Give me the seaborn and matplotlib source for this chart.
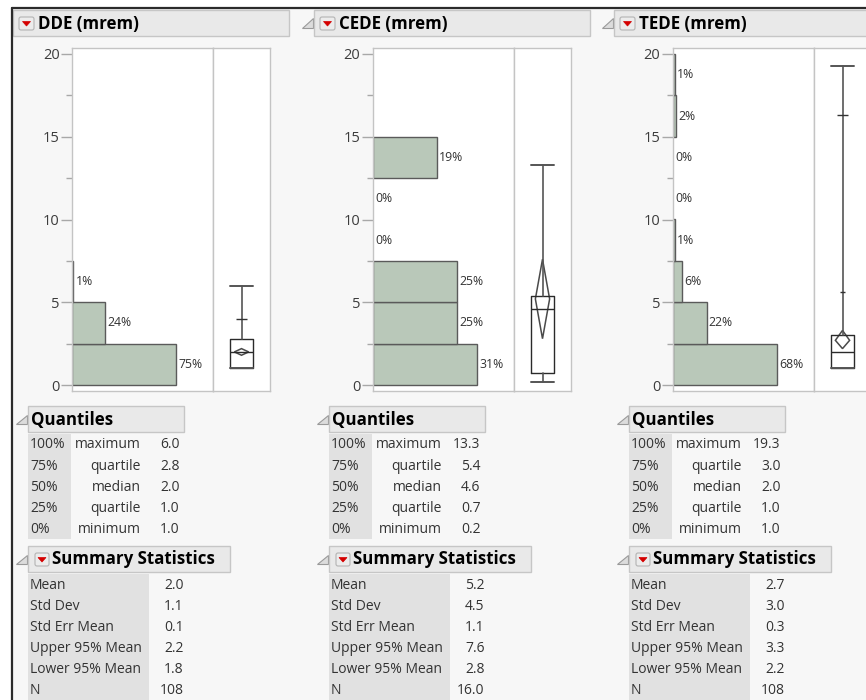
import matplotlib
matplotlib.use("Agg")
import matplotlib.pyplot as plt
from matplotlib.patches import Rectangle, Polygon, FancyBboxPatch
import seaborn as sns

# -------------------------------
# Values read from the JMP distribution report
# -------------------------------
VARIABLES = ["DDE (mrem)", "CEDE (mrem)", "TEDE (mrem)"]
BIN_EDGES = [0, 2.5, 5, 7.5, 10, 12.5, 15, 17.5, 20]

DDE_PCT = [75, 24, 1]
CEDE_PCT = [31, 25, 25, 0, 0, 19]
TEDE_PCT = [68, 22, 6, 1, 0, 0, 2, 1]

QUANTILE_PCTS = ["100%", "75%", "50%", "25%", "0%"]
QUANTILE_NAMES = ["maximum", "quartile", "median", "quartile", "minimum"]
DDE_QUANTILES = [6.0, 2.8, 2.0, 1.0, 1.0]
CEDE_QUANTILES = [13.3, 5.4, 4.6, 0.7, 0.2]
TEDE_QUANTILES = [19.3, 3.0, 2.0, 1.0, 1.0]

SUMMARY_NAMES = ["Mean", "Std Dev", "Std Err Mean", "Upper 95% Mean", "Lower 95% Mean", "N"]
DDE_SUMMARY = [2.0, 1.1, 0.1, 2.2, 1.8]
CEDE_SUMMARY = [5.2, 4.5, 1.1, 7.6, 2.8]
TEDE_SUMMARY = [2.7, 3.0, 0.3, 3.3, 2.2]
N_LABELS = ["108", "16.0", "108"]

# extra quantile marks on the upper whisker
DDE_WHISKER_MARKS = [4.0]
CEDE_WHISKER_MARKS = []
TEDE_WHISKER_MARKS = [16.3, 5.6]

PCTS = [DDE_PCT, CEDE_PCT, TEDE_PCT]
QUANTILES = [DDE_QUANTILES, CEDE_QUANTILES, TEDE_QUANTILES]
SUMMARIES = [DDE_SUMMARY, CEDE_SUMMARY, TEDE_SUMMARY]
WHISKER_MARKS = [DDE_WHISKER_MARKS, CEDE_WHISKER_MARKS, TEDE_WHISKER_MARKS]

# -------------------------------
# Styles / layout (pixels)
# -------------------------------
W, H = 866, 700
COL_DX = [0, 301, 601]
MARK_WIDTHS = [[0.19], [], [0.21, 0.1]]
BAR_FILL = "#b9c8b9"
BAR_EDGE = "#5a5a5a"
PAGE_BG = "#f7f7f7"
HEADER_BG = "#e9e9e9"
HEADER_EDGE = "#c6c6c6"
LABEL_BG = "#e1e1e1"
TEXT = "#333333"
SPINE = "#c4c4c4"
ROW_FS = 10
HEAD_FS = 12.2

sns.set_theme(style="white")
plt.rcParams["font.family"] = ["Open Sans", "DejaVu Sans"]


def rect(x0, y0, x1, y1):
    """Figure-fraction rect from top-left pixel corners."""
    return [x0 / W, 1 - y1 / H, (x1 - x0) / W, (y1 - y0) / H]


def disclosure(bg, x0, y0, x1, y1):
    bg.add_patch(Polygon([(x1, y0), (x1, y1), (x0, y1)], closed=True,
                         facecolor="#dcdcdc", edgecolor="#9a9a9a", lw=0.8))


def red_button(bg, x0, y0, x1, y1):
    bg.add_patch(FancyBboxPatch((x0, y0), x1 - x0, y1 - y0,
                                boxstyle="round,pad=0,rounding_size=2",
                                facecolor="#ececec", edgecolor="#b4b4b4", lw=0.8))
    cx, cy = (x0 + x1) / 2, (y0 + y1) / 2
    bg.add_patch(Polygon([(cx - 4, cy - 2), (cx + 4, cy - 2), (cx, cy + 2.5)],
                         closed=True, facecolor="#d40000", edgecolor="#d40000", lw=0.5))


def header_box(bg, x0, y0, x1, y1):
    bg.add_patch(Rectangle((x0, y0), x1 - x0, y1 - y0,
                           facecolor=HEADER_BG, edgecolor=HEADER_EDGE, lw=1))


fig = plt.figure(figsize=(W / 100, H / 100), dpi=100, facecolor="white")

# background canvas in pixel coordinates
bg = fig.add_axes([0, 0, 1, 1], zorder=0)
bg.set_xlim(0, W)
bg.set_ylim(H, 0)
bg.axis("off")
bg.add_patch(Rectangle((12, 8), W - 12, H - 8, facecolor=PAGE_BG, edgecolor="none"))
bg.plot([12, 12], [8, H], color="#2b2b2b", lw=1.6)
bg.plot([12, W], [8, 8], color="#2b2b2b", lw=1.6)

for i, name in enumerate(VARIABLES):
    dx = COL_DX[i]
    pct = PCTS[i]
    quant = QUANTILES[i]
    summ = SUMMARIES[i]

    # ---- title header
    if i > 0:
        disclosure(bg, 1 + dx, 18, 12 + dx, 28)
    header_box(bg, 13 + dx, 10, 289 + dx, 36)
    red_button(bg, 19 + dx, 17, 34 + dx, 30)
    bg.text(38 + dx, 23.5, name, fontsize=HEAD_FS, fontweight="bold", color="black",
            va="center", ha="left")

    # ---- histogram
    ax = fig.add_axes(rect(72 + dx, 48, 213 + dx, 391), zorder=2)
    edges = BIN_EDGES[: len(pct) + 1]
    mids = [(edges[j] + edges[j + 1]) / 2 for j in range(len(pct))]
    sns.histplot(y=mids, weights=pct, bins=edges, stat="count", ax=ax,
                 color=BAR_FILL, edgecolor=BAR_EDGE, linewidth=1, alpha=1)
    for p in ax.patches:
        if p.get_width() == 0:
            p.set_linewidth(0)
    for p_val, mid in zip(pct, mids):
        ax.annotate(f"{p_val}%", (p_val, mid), xytext=(2, 0), textcoords="offset pixels",
                    fontsize=8.8, color=TEXT, va="center", ha="left")
    ax.set_xlim(0, max(pct) / 0.74)
    ax.set_ylim(-0.36, 20.36)
    ax.set_facecolor("white")
    ax.set_xlabel("")
    ax.set_ylabel("")
    ax.set_xticks([])
    ax.set_yticks([0, 5, 10, 15, 20])
    ax.set_yticks([2.5, 7.5, 12.5, 17.5], minor=True)
    ax.tick_params(axis="y", which="major", left=True, length=8, width=1,
                   color="#a8a8a8", labelsize=10.5, labelcolor="#3c3c3c", pad=1)
    ax.tick_params(axis="y", which="minor", left=True, length=4, width=1, color="#a8a8a8")
    for s in ax.spines.values():
        s.set_color(SPINE)
        s.set_linewidth(1)

    # ---- outlier box plot with mean diamond
    axb = fig.add_axes(rect(213 + dx, 48, 270 + dx, 391), zorder=2)
    axb.set_facecolor("white")
    stats = [dict(med=quant[2], q1=quant[3], q3=quant[1],
                  whislo=quant[4], whishi=quant[0], fliers=[])]
    axb.bxp(stats, positions=[0.5], widths=0.4, capwidths=0.4, showfliers=False,
            boxprops=dict(color="#2a2a2a", lw=1),
            medianprops=dict(color="#2a2a2a", lw=1),
            whiskerprops=dict(color="#555555", lw=1.2),
            capprops=dict(color="#555555", lw=1.4))
    mean, upper, lower = summ[0], summ[3], summ[4]
    axb.add_patch(Polygon([(0.5, lower), (0.625, mean), (0.5, upper), (0.375, mean)],
                          closed=True, fill=False, edgecolor="#4a4a4a", lw=1.1))
    for m, w in zip(WHISKER_MARKS[i], MARK_WIDTHS[i]):
        axb.hlines(m, 0.5 - w / 2, 0.5 + w / 2, color="#333333", lw=1)
    axb.set_xlim(0, 1)
    axb.set_ylim(-0.36, 20.36)
    axb.set_xticks([])
    axb.set_yticks([])
    for s in axb.spines.values():
        s.set_color(SPINE)
        s.set_linewidth(1)

    # ---- Quantiles table
    disclosure(bg, 16 + dx, 415, 27 + dx, 424)
    header_box(bg, 28 + dx, 406, 184 + dx, 432)
    bg.text(31 + dx, 419.5, "Quantiles", fontsize=HEAD_FS, fontweight="bold", color="black",
            va="center", ha="left")
    bg.add_patch(Rectangle((28 + dx, 434), 43, 105, facecolor=LABEL_BG, edgecolor="none"))
    row_y = [445, 466.5, 487.5, 508.5, 529.5]
    for y, lab, nm, v in zip(row_y, QUANTILE_PCTS, QUANTILE_NAMES, quant):
        bg.text(30 + dx, y, lab, fontsize=ROW_FS, color=TEXT, va="center", ha="left")
        bg.text(140.5 + dx, y, nm, fontsize=ROW_FS, color=TEXT, va="center", ha="right")
        bg.text(179.5 + dx, y, f"{v:.1f}", fontsize=ROW_FS, color=TEXT, va="center", ha="right")

    # ---- Summary Statistics table
    disclosure(bg, 16 + dx, 555, 27 + dx, 564)
    header_box(bg, 28 + dx, 546, 230 + dx, 572)
    red_button(bg, 35 + dx, 553, 49 + dx, 566)
    bg.text(52 + dx, 559.5, "Summary Statistics", fontsize=HEAD_FS, fontweight="bold",
            color="black", va="center", ha="left")
    bg.add_patch(Rectangle((28 + dx, 574), 121, 140, facecolor=LABEL_BG, edgecolor="none"))
    sum_y = [585.5, 606.5, 627.5, 648.5, 669.5, 690.5]
    values = [f"{v:.1f}" for v in summ] + [N_LABELS[i]]
    for y, lab, v in zip(sum_y, SUMMARY_NAMES, values):
        bg.text(30 + dx, y, lab, fontsize=ROW_FS, color=TEXT, va="center", ha="left")
        bg.text(183.5 + dx, y, v, fontsize=ROW_FS, color=TEXT, va="center", ha="right")

fig.savefig("out.png", dpi=100, facecolor="white")
